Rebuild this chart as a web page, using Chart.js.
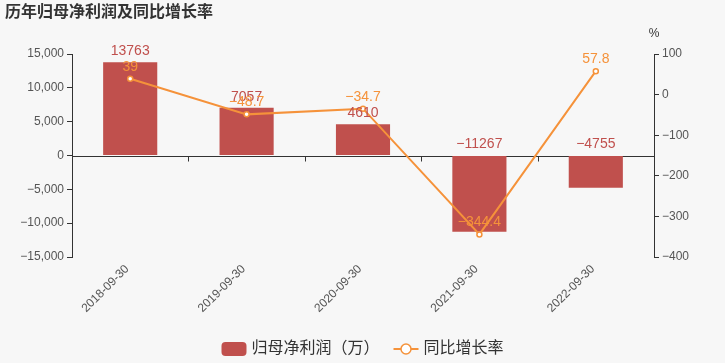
<!DOCTYPE html>
<html>
<head>
<meta charset="utf-8">
<script src="https://cdn.jsdelivr.net/npm/chart.js@4/dist/chart.umd.min.js"></script>
<style>
  body { margin: 0; background: #f7f7f7; }
  #wrap { width: 725px; height: 363px; position: relative; }
</style>
</head>
<body>
<div id="wrap"><canvas id="myChart"></canvas></div>
<script>
const titleText = '历年归母净利润及同比增长率';
const categories = ['2018-09-30', '2019-09-30', '2020-09-30', '2021-09-30', '2022-09-30'];
const profitValues = [13763, 7057, 4610, -11267, -4755];
const growthValues = [39, -48.7, -34.7, -344.4, 57.8];
const leftTicks = [-15000, -10000, -5000, 0, 5000, 10000, 15000];
const rightTicks = [-400, -300, -200, -100, 0, 100];
const seriesNames = ['归母净利润（万）', '同比增长率'];

const barColor = '#c0504d';
const lineColor = '#f5923a';
const fontFamily = "'Liberation Sans', Arial, 'Noto Sans CJK SC', sans-serif";

const minus = s => String(s).replace('-', '\u2212');

const decorPlugin = {
  id: 'decor',
  beforeDraw(chart) {
    const c = chart.ctx;
    c.save();
    c.fillStyle = '#f7f7f7';
    c.fillRect(0, 0, chart.width, chart.height);
    c.restore();
  },
  beforeDatasetsDraw(chart) {
    // zero line with category ticks
    const c = chart.ctx, a = chart.chartArea;
    const y0 = Math.round(chart.scales.y.getPixelForValue(0)) + 0.5;
    c.save();
    c.strokeStyle = '#333';
    c.lineWidth = 1;
    c.beginPath();
    c.moveTo(a.left, y0);
    c.lineTo(a.right, y0);
    const step = (a.right - a.left) / categories.length;
    for (let i = 0; i <= categories.length; i++) {
      const x = Math.round(a.left + i * step) + 0.5;
      c.moveTo(x, y0);
      c.lineTo(x, y0 + 5);
    }
    c.stroke();
    c.restore();
  },
  afterDatasetsDraw(chart) {
    const c = chart.ctx;
    c.save();
    c.font = '14px ' + fontFamily;
    c.textAlign = 'center';
    c.textBaseline = 'bottom';
    const y0 = chart.scales.y.getPixelForValue(0);
    chart.getDatasetMeta(0).data.forEach((bar, i) => {
      const v = profitValues[i];
      c.fillStyle = barColor;
      c.fillText(minus(v), bar.x, (v >= 0 ? bar.y : y0) - 4);
    });
    chart.getDatasetMeta(1).data.forEach((pt, i) => {
      c.fillStyle = lineColor;
      c.fillText(minus(growthValues[i]), pt.x, pt.y - 5);
    });
    c.restore();
  },
  afterDraw(chart) {
    const c = chart.ctx;
    c.save();
    // title
    c.font = 'bold 16px ' + fontFamily;
    c.fillStyle = '#333';
    c.textBaseline = 'middle';
    c.textAlign = 'left';
    c.fillText(titleText, 5, 13);
    // percent unit
    c.font = '12px ' + fontFamily;
    c.textAlign = 'center';
    c.fillText('%', chart.scales.y1.left, 34);
    // legend
    c.font = '16px ' + fontFamily;
    const w1 = c.measureText(seriesNames[0]).width;
    const w2 = c.measureText(seriesNames[1]).width;
    const total = 25 + 5 + w1 + 14 + 25 + 5 + w2;
    let x = chart.width / 2 - total / 2;
    const ly = 349;
    c.fillStyle = barColor;
    c.beginPath();
    c.roundRect(x, ly - 7, 25, 14, 4);
    c.fill();
    x += 30;
    c.fillStyle = '#333';
    c.textAlign = 'left';
    c.fillText(seriesNames[0], x, ly);
    x += w1 + 14;
    c.strokeStyle = lineColor;
    c.lineWidth = 2;
    c.beginPath();
    c.moveTo(x, ly);
    c.lineTo(x + 25, ly);
    c.stroke();
    c.beginPath();
    c.arc(x + 12.5, ly, 5, 0, Math.PI * 2);
    c.fillStyle = '#fff';
    c.fill();
    c.lineWidth = 1.5;
    c.stroke();
    x += 30;
    c.fillStyle = '#333';
    c.fillText(seriesNames[1], x, ly);
    c.restore();
  }
};

const ctx = document.getElementById('myChart');

new Chart(ctx, {
  data: {
    labels: categories,
    datasets: [{
      type: 'bar',
      label: seriesNames[0],
      data: profitValues,
      backgroundColor: barColor,
      yAxisID: 'y',
      categoryPercentage: 1,
      barPercentage: 0.465,
      order: 1
    }, {
      type: 'line',
      label: seriesNames[1],
      data: growthValues,
      borderColor: lineColor,
      borderWidth: 2,
      tension: 0,
      pointRadius: 2.5,
      pointBackgroundColor: '#fff',
      pointBorderColor: lineColor,
      pointBorderWidth: 1.5,
      yAxisID: 'y1',
      order: 0
    }]
  },
  plugins: [decorPlugin],
  options: {
    responsive: true,
    maintainAspectRatio: false,
    animation: false,
    layout: { padding: { top: 54, bottom: 0, left: 0, right: 0 } },
    plugins: {
      legend: { display: false },
      title: { display: false },
      tooltip: { enabled: false }
    },
    scales: {
      x: {
        grid: { display: false },
        border: { display: false },
        ticks: {
          color: '#555',
          font: { size: 12, family: fontFamily },
          minRotation: 45,
          maxRotation: 45,
          padding: -3,
          labelOffset: -3
        },
        afterFit: s => { s.height = 106; }
      },
      y: {
        position: 'left',
        min: leftTicks[0],
        max: leftTicks[leftTicks.length - 1],
        ticks: {
          stepSize: leftTicks[1] - leftTicks[0],
          color: '#555',
          font: { size: 12, family: fontFamily },
          padding: 3,
          callback: v => minus(v.toLocaleString('en-US'))
        },
        grid: { drawOnChartArea: false, tickLength: 5, color: '#333' },
        border: { display: true, color: '#333' },
        afterFit: s => { s.width = 72; }
      },
      y1: {
        position: 'right',
        min: rightTicks[0],
        max: rightTicks[rightTicks.length - 1],
        ticks: {
          stepSize: rightTicks[1] - rightTicks[0],
          color: '#555',
          font: { size: 12, family: fontFamily },
          padding: 3,
          callback: v => minus(v)
        },
        grid: { drawOnChartArea: false, tickLength: 5, color: '#333' },
        border: { display: true, color: '#333' },
        afterFit: s => { s.width = 71; }
      }
    }
  }
});
</script>
</body>
</html>
